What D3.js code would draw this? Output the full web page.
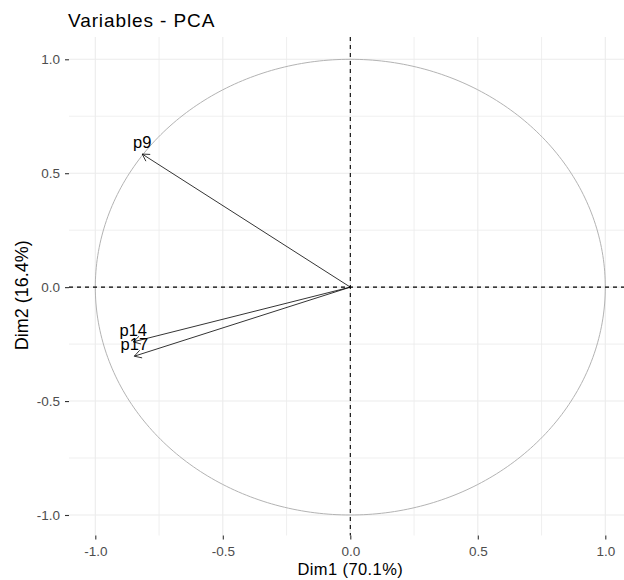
<!DOCTYPE html>
<html>
<head>
<meta charset="utf-8">
<script src="https://cdn.jsdelivr.net/npm/d3@7"></script>
<style>
  html, body { margin: 0; padding: 0; background: #fff; }
  svg { display: block; font-family: "Liberation Sans", Arial, Helvetica, sans-serif; }
</style>
</head>
<body>
<svg id="chart" width="624" height="580"></svg>
<script>
// ---- data ----
const variables = ["p9", "p14", "p17"];
const dim1 = [-0.816, -0.851, -0.847];
const dim2 = [0.584, -0.240, -0.303];
const majorTicks = [-1.0, -0.5, 0.0, 0.5, 1.0];
const minorTicks = [-0.75, -0.25, 0.25, 0.75];
const titleText = "Variables - PCA";
const xTitle = "Dim1 (70.1%)";
const yTitle = "Dim2 (16.4%)";

// ---- layout ----
const svg = d3.select("#chart");
const panel = { left: 69, right: 624, top: 37, bottom: 535.5 };
const x = d3.scaleLinear().domain([-1.1, 1.1]).range([69.8, 630.8]);
const y = d3.scaleLinear().domain([-1.09, 1.1]).range([535.5, 36.5]);

const g = svg.append("g");

// grid (minor then major)
const gridColor = "#ebebeb";
g.selectAll(".vminor").data(minorTicks).join("line")
  .attr("x1", d => x(d)).attr("x2", d => x(d))
  .attr("y1", panel.top).attr("y2", panel.bottom)
  .attr("stroke", gridColor).attr("stroke-width", 0.8);
g.selectAll(".hminor").data(minorTicks).join("line")
  .attr("y1", d => y(d)).attr("y2", d => y(d))
  .attr("x1", panel.left).attr("x2", panel.right)
  .attr("stroke", gridColor).attr("stroke-width", 0.8);
g.selectAll(".vmajor").data(majorTicks).join("line")
  .attr("x1", d => x(d)).attr("x2", d => x(d))
  .attr("y1", panel.top).attr("y2", panel.bottom)
  .attr("stroke", gridColor).attr("stroke-width", 1.1);
g.selectAll(".hmajor").data(majorTicks).join("line")
  .attr("y1", d => y(d)).attr("y2", d => y(d))
  .attr("x1", panel.left).attr("x2", panel.right)
  .attr("stroke", gridColor).attr("stroke-width", 1.1);

// correlation circle
const angles = d3.range(0, 361, 1).map(a => a * Math.PI / 180);
const circleLine = d3.line().x(a => x(Math.cos(a))).y(a => y(Math.sin(a))).curve(d3.curveLinear);
g.append("path").attr("d", circleLine(angles))
  .attr("fill", "none").attr("stroke", "#b3b3b3").attr("stroke-width", 1);

// dashed axes lines
g.append("line").attr("x1", panel.left).attr("x2", panel.right)
  .attr("y1", y(0)).attr("y2", y(0))
  .attr("stroke", "#000").attr("stroke-width", 1.1).attr("stroke-dasharray", "4,4");
g.append("line").attr("x1", x(0)).attr("x2", x(0))
  .attr("y1", panel.top).attr("y2", panel.bottom)
  .attr("stroke", "#000").attr("stroke-width", 1.1).attr("stroke-dasharray", "4,4");

// arrows
const headLen = 8, headAng = Math.PI / 6;
variables.forEach((v, i) => {
  const x0 = x(0), y0 = y(0), x1 = x(dim1[i]), y1 = y(dim2[i]);
  const th = Math.atan2(y1 - y0, x1 - x0);
  g.append("line").attr("x1", x0).attr("y1", y0).attr("x2", x1).attr("y2", y1)
    .attr("stroke", "#000").attr("stroke-width", 0.8);
  const p = d3.path();
  p.moveTo(x1 - headLen * Math.cos(th - headAng), y1 - headLen * Math.sin(th - headAng));
  p.lineTo(x1, y1);
  p.lineTo(x1 - headLen * Math.cos(th + headAng), y1 - headLen * Math.sin(th + headAng));
  g.append("path").attr("d", p.toString()).attr("fill", "none")
    .attr("stroke", "#000").attr("stroke-width", 0.8);
  g.append("text").attr("x", x1).attr("y", y1 - 6)
    .attr("text-anchor", "middle").attr("font-size", 16.5).attr("fill", "#000")
    .text(v);
});

// axes ticks
const xAxis = d3.axisBottom(x).tickValues(majorTicks).tickFormat(d3.format(".1f")).tickSize(4).tickPadding(7);
const yAxis = d3.axisLeft(y).tickValues(majorTicks).tickFormat(d3.format(".1f")).tickSize(4).tickPadding(5);
const gx = svg.append("g").attr("transform", `translate(0,${panel.bottom})`).call(xAxis);
const gy = svg.append("g").attr("transform", `translate(${panel.left},0)`).call(yAxis);
[gx, gy].forEach(a => {
  a.select(".domain").remove();
  a.selectAll(".tick line").attr("stroke", "#333").attr("stroke-width", 1.1);
  a.selectAll(".tick text").attr("fill", "#4d4d4d").attr("font-size", 13.5)
    .attr("font-family", "Liberation Sans, Arial, sans-serif");
});
gx.selectAll(".tick text").text(d => d3.format(".1f")(d).replace("−", "-"));
gy.selectAll(".tick text").text(d => d3.format(".1f")(d).replace("−", "-"));

// titles
svg.append("text").attr("x", 68).attr("y", 27).attr("font-size", 19)
  .attr("letter-spacing", 0.9).attr("fill", "#000").text(titleText);
svg.append("text").attr("x", x(0)).attr("y", 575).attr("text-anchor", "middle")
  .attr("font-size", 16.5).attr("letter-spacing", 0.4).attr("fill", "#000").text(xTitle);
svg.append("text").attr("transform", `translate(27.5,${(panel.top + panel.bottom) / 2 + 9}) rotate(-90)`)
  .attr("text-anchor", "middle").attr("font-size", 18).attr("fill", "#000").text(yTitle);
</script>
</body>
</html>
